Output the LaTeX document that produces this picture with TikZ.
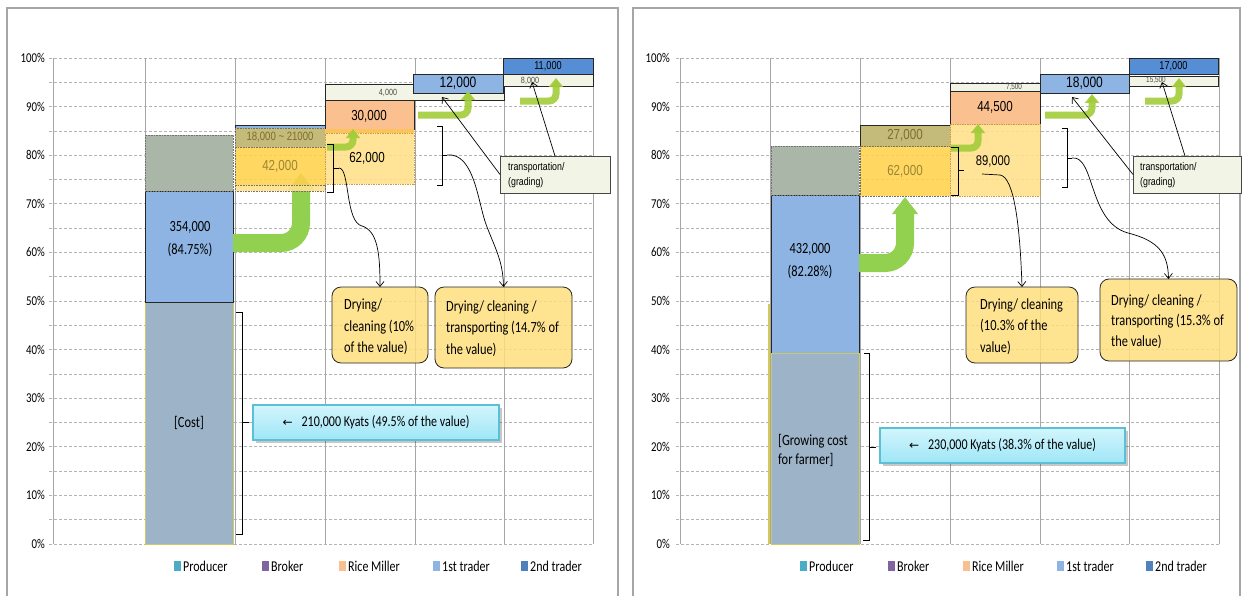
\documentclass[tikz,border=0pt]{standalone}
\usepackage{fontspec}
\setmainfont{Carlito}[FakeStretch=0.8]
\newfontfamily\arialf{Liberation Sans}[FakeStretch=0.8]
\newfontfamily\symf{DejaVu Sans}
\usetikzlibrary{arrows.meta,fit}
\newcommand\fsz[2]{\fontsize{#1}{#2}\selectfont}

\definecolor{framegray}{HTML}{A6A6A6}
\definecolor{gridgray}{HTML}{B4B4B4}
\definecolor{costblue}{HTML}{9DB3C8}
\definecolor{costedge}{HTML}{D2C862}
\definecolor{midblue}{HTML}{8DB4E2}
\definecolor{topgreen}{HTML}{A9B6A8}
\definecolor{brokerOlive}{HTML}{C4BA7A}
\definecolor{oliveText}{HTML}{7F6E2C}
\definecolor{goldfill}{HTML}{FFD24C}
\definecolor{goldText}{HTML}{9A8636}
\definecolor{paleyellow}{HTML}{FFE08C}
\definecolor{millerOrange}{HTML}{FAC08F}
\definecolor{millerBand}{HTML}{FBC35A}
\definecolor{paleGreen}{HTML}{F2F4E6}
\definecolor{darkblue}{HTML}{558ED5}
\definecolor{dryfill}{HTML}{FEDF7E}
\definecolor{calloutTop}{HTML}{D2F5FC}
\definecolor{calloutBot}{HTML}{9FE6F7}
\definecolor{calloutLine}{HTML}{5BBFD6}
\definecolor{arrowgreen}{HTML}{92D050}
\definecolor{smallgreen}{HTML}{A2CC3A}
\definecolor{legProducer}{HTML}{4BACC6}
\definecolor{legBroker}{HTML}{8064A2}
\definecolor{legMiller}{HTML}{F9BF8F}
\definecolor{legFirst}{HTML}{8DB4E2}
\definecolor{legSecond}{HTML}{4F81BD}
\definecolor{inkdark}{HTML}{262626}

\tikzset{
  seg/.style={rectangle, inner sep=0pt, outer sep=0pt, line width=0.7pt, draw=inkdark},
  dotseg/.style={seg, draw=inkdark!65, line width=0.6pt, densely dotted},
  hgrid/.style={draw=gridgray, line width=0.8pt, dash pattern=on 3pt off 2pt},
  vgrid/.style={draw=framegray, line width=1pt},
  chartframe/.style={draw=framegray, line width=1.4pt},
  axislabel/.style={anchor=east, inner sep=0pt, font={\fsz{13.5}{15}}},
  bigarrow/.style={draw=arrowgreen, line width=18pt, rounded corners=20pt, -{Triangle[width=25pt,length=17pt]}},
  smallarrow/.style={draw=smallgreen, draw opacity=0.9, line width=7pt, rounded corners=7pt, -{Triangle[width=14pt,length=9pt]}},
  pointer/.style={draw=black, line width=0.7pt, -{Straight Barb[length=5pt,width=8pt]}},
  brace/.style={draw=black, line width=1pt},
  drybox/.style={seg, rounded corners=9pt, fill=dryfill, fill opacity=0.85, draw=inkdark, line width=0.8pt},
  drytext/.style={anchor=west, inner sep=0pt, align=left, font={\fsz{15.5}{21.5}}},
  transbox/.style={seg, fill=paleGreen, draw=inkdark!85, line width=0.8pt},
  transtext/.style={anchor=west, inner sep=0pt, align=left, font={\arialf\fsz{11}{15}}},
  callout/.style={seg, top color=calloutTop, bottom color=calloutBot, draw=calloutLine, line width=1.2pt},
  callshadow/.style={fill=black, fill opacity=0.22},
  calltext/.style={inner sep=0pt, font={\fsz{15}{17}}},
  legtext/.style={anchor=west, inner sep=0pt, font={\fsz{15}{17}}},
  smalltext/.style={inner sep=0pt, font={\arialf\fsz{9}{10}}, text=black!70},
  valtext/.style={inner sep=0pt, font={\arialf\fsz{14.5}{16}}},
  bartext/.style={inner sep=0pt, align=center, font={\fsz{15.5}{23}}},
}

\begin{document}
\begin{tikzpicture}[x=1pt,y=-1pt]
\useasboundingbox (0,0) rectangle (1242,595);
\fill[white] (0,0) rectangle (1242,595);

%================ left chart ================
\draw[chartframe] (7,598) -- (7,8) -- (618,8) -- (618,598);
\foreach \i in {0,...,20} \draw[hgrid] (49,{544-24.3*\i}) -- (593,{544-24.3*\i});
\foreach \x in {53,145,235,325,415,504,593} \draw[vgrid] (\x,58) -- (\x,544);
\foreach \i in {0,...,10} \node[axislabel] at (45,{544-48.6*\i}) {\the\numexpr 10*\i\relax\%};

% producer
\node[seg, draw=costedge, line width=0.9pt, fill=costblue, fit={(145,302) (233,544)}] (Lcost) {};
\node[bartext] at (Lcost.center) {[Cost]};
\node[seg, fill=midblue, fit={(145,191) (233,302)}] (Lmid) {};
\node[bartext] at (190,239) {354,000\\(84.75\%)};
\node[dotseg, fill=topgreen, fit={(145,135) (233,191)}] (Ltop) {};

% value added by the broker
\coordinate (LbaC) at (301,243);
\coordinate (LbaT) at (301,173);
\draw[bigarrow] (Lmid.east |- LbaC) -- (LbaC) -- (LbaT);

\node[seg, fill=midblue, fit={(235,125) (325,128)}] (LbBlue) {};
\node[dotseg, fill=brokerOlive, fit={(235,128) (325,147)}] (LbOlive) {};
\node[valtext, font={\arialf\fsz{12}{14}}, text=oliveText] at (LbOlive.center) {18,000 \textasciitilde{} 21000};
\node[dotseg, fill=goldfill, fill opacity=0.88, fit={(235,147) (325,185)}] (LbGold) {};
\node[valtext, text=goldText] at (LbGold.center) {42,000};
\node[dotseg, fill=paleyellow, fill opacity=0.9, fit={(235,185) (325,191)}] (LbPale) {};

% rice miller
\node[seg, fill=paleGreen, fit={(325,84) (504,100)}] (Lr4k) {};
\node[smalltext] at (388,93) {4,000};
\node[seg, fill=millerOrange, fit={(325,100) (414,129)}] (LrOr) {};
\node[valtext] at (369,116) {30,000};
\node[seg, draw=none, fill=millerBand, fit={(325,129) (414,133)}] (LrBand) {};
\node[seg, draw=millerBand!80!black, densely dotted, line width=0.5pt, fill=paleyellow, fill opacity=0.9, fit={(325,133) (414,184)}] (LrPale) {};
\node[valtext] at (367,158) {62,000};
\draw[smallarrow] (327,147) -- (353,147) -- (LrOr.south -| 353,0);

\draw[brace] (327,144) -- (333,144) -- (333,192) -- (327,192);
\draw[brace] (333,168) -- (339,168);

% 1st trader
\node[seg, fill=midblue, line width=1pt, fit={(413,74) (503,93)}] (Lt1) {};
\node[valtext, font={\arialf\fsz{15}{17}}] at (Lt1.center) {12,000};
\draw[smallarrow] (418,115) -- (468,115) -- (468,91);
\draw[brace] (437,126) -- (442,126) -- (442,185) -- (437,185);
\draw[brace] (442,155) -- (447,155);

% 2nd trader
\node[seg, fill=darkblue, fit={(503,58) (593,74)}] (Lt2a) {};
\node[valtext, font={\arialf\fsz{11.5}{13}}] at (Lt2a.center) {11,000};
\node[seg, fill=paleGreen, fit={(503,74) (593,86)}] (Lt2b) {};
\node[smalltext] at (530,81) {8,000};
\draw[smallarrow] (520,101) -- (556,101) -- (556,78);

% transport note
\node[transbox, fit={(500,156) (610,193)}] (TrL) {};
\node[transtext] at (508,175) {transportation/\\(grading)};
\coordinate (LtA) at (442,97);
\coordinate (LtB) at (532,82);
\coordinate (LtBs) at (555,156);
\draw[pointer] (TrL.west) -- (LtA);
\draw[pointer] (LtBs) -- (LtB);

% processing notes
\node[drybox, fit={(332,287) (428,363)}] (D1L) {};
\node[drytext] at (344,327) {Drying/\\cleaning (10\%\\of the value)};
\node[drybox, fit={(435,287) (572,368)}] (D2L) {};
\node[drytext] at (446,328.5) {Drying/ cleaning /\\transporting (14.7\% of\\the value)};
\draw[pointer] (339,168) .. controls (350,168) and (345,222) .. (362,226) .. controls (378,231) and (380,255) .. (D1L.north);
\draw[pointer] (447,155) .. controls (475,152) and (478,205) .. (487,227) .. controls (496,250) and (503,262) .. (D2L.north);

% cost brace and callout
\draw[brace] (236,312) -- (242,312) -- (242,534) -- (236,534);
\draw[brace] (242,422) -- (249,422);
\fill[callshadow] (256,408) rectangle (502,443);
\node[callout, fit={(253,405) (499,440)}] (CaL) {};
\node[calltext] at (CaL.center) {{\symf\fsz{12}{14}←}\hspace{9pt}210,000 Kyats (49.5\% of the value)};

% legend
\foreach \xx/\cc/\tt/\nn in {174/legProducer/Producer/a, 262/legBroker/Broker/b, 339/legMiller/Rice Miller/c, 433/legFirst/1st trader/d, 521/legSecond/2nd trader/e}{
  \fill[\cc] (\xx,561) rectangle ++(7,10);
  \node[legtext] (LL\nn) at (\xx+9,566) {\tt};
}

%================ right chart ================
\draw[chartframe] (633,598) -- (633,8) -- (1240,8) -- (1240,598);
\foreach \i in {0,...,20} \draw[hgrid] (676,{544-24.3*\i}) -- (1219,{544-24.3*\i});
\foreach \x in {680,770,860,950,1040,1129,1219} \draw[vgrid] (\x,58) -- (\x,544);
\foreach \i in {0,...,10} \node[axislabel] at (670,{544-48.6*\i}) {\the\numexpr 10*\i\relax\%};

% producer
\draw[draw=costedge, line width=1.2pt] (769,304) -- (769,544);
\node[seg, fill=midblue, fit={(771,195) (859,353)}] (Rmid) {};
\node[seg, draw=costedge, line width=0.9pt, fill=costblue, fit={(771,353) (859,544)}] (Rcost) {};
\node[bartext, align=left, font={\fsz{15.5}{19}}, anchor=west] at (778,450) {[Growing cost\\for farmer]};
\node[bartext] at (810,261) {432,000\\(82.28\%)};
\node[dotseg, fill=topgreen, fit={(771,146) (859,195)}] (Rtop) {};

\coordinate (RbaC) at (905,263);
\coordinate (RbaT) at (905,197);
\draw[bigarrow] (Rmid.east |- RbaC) -- (RbaC) -- (RbaT);

% broker
\node[seg, fill=brokerOlive, line width=1pt, fit={(860,125) (950,146)}] (RbOlive) {};
\node[valtext, text=oliveText] at (RbOlive.center) {27,000};
\node[dotseg, fill=goldfill, fill opacity=0.88, fit={(860,146) (950,196)}] (RbGold) {};
\node[valtext, text=goldText] at (RbGold.center) {62,000};

% rice miller
\node[seg, fill=paleGreen, line width=1pt, fit={(950,83) (1040,91)}] (Rr7) {};
\node[smalltext, font={\arialf\fsz{8}{9}}] at (1014,87) {7,500};
\node[seg, fill=millerOrange, fit={(950,91) (1040,124)}] (RrOr) {};
\node[valtext] at (RrOr.center) {44,500};
\node[seg, draw=millerBand!80!black, densely dotted, line width=0.5pt, fill=paleyellow, fill opacity=0.9, fit={(950,124) (1040,196)}] (RrPale) {};
\node[valtext, font={\arialf\fsz{14}{16}}] at (993,162) {89,000};
\draw[smallarrow] (951,148) -- (978,148) -- (RrOr.south -| 978,0);
\draw[brace] (951,147) -- (958,147) -- (958,195) -- (951,195);
\draw[brace] (958,170) -- (964,170);

% 1st trader
\node[seg, fill=midblue, line width=1pt, fit={(1040,74) (1129,93)}] (Rt1) {};
\node[valtext, font={\arialf\fsz{15}{17}}] at (Rt1.center) {18,000};
\draw[smallarrow] (1045,115) -- (1092,115) -- (1092,94);
\draw[brace] (1062,128) -- (1067,128) -- (1067,187) -- (1062,187);
\draw[brace] (1067,158) -- (1072,158);

% 2nd trader
\node[seg, fill=darkblue, fit={(1129,58) (1218,74)}] (Rt2a) {};
\node[valtext, font={\arialf\fsz{11.5}{13}}] at (Rt2a.center) {17,000};
\node[seg, fill=paleGreen, fit={(1129,76) (1218,86)}] (Rt2b) {};
\node[smalltext, font={\arialf\fsz{8}{9}}] at (1156,80) {15,500};
\draw[smallarrow] (1145,101) -- (1179,101) -- (1179,78);

% transport note
\node[transbox, fit={(1133,156) (1241,193)}] (TrR) {};
\node[transtext] at (1140,175) {transportation/\\(grading)};
\coordinate (RtA) at (1072,97);
\coordinate (RtB) at (1162,82);
\coordinate (RtBs) at (1185,156);
\draw[pointer] (TrR.west) -- (RtA);
\draw[pointer] (RtBs) -- (RtB);

% processing notes
\node[drybox, fit={(966,287) (1078,363)}] (D1R) {};
\node[drytext] at (980,326.5) {Drying/ cleaning\\(10.3\% of the\\value)};
\node[drybox, fit={(1100,279) (1237,361)}] (D2R) {};
\node[drytext, font={\fsz{15.5}{20.5}}] at (1111,321.5) {Drying/ cleaning /\\transporting (15.3\% of\\the value)};
\coordinate (RcS) at (982,174);
\draw[pointer] (RcS) -- (1000,175) .. controls (1014,177) and (1020,225) .. (D1R.north);
\draw[pointer] (1072,158) .. controls (1095,155) and (1088,222) .. (1128,233) .. controls (1160,241) and (1168,255) .. (D2R.north);

% cost brace and callout
\draw[brace] (864,353) -- (869,353) -- (869,540) -- (863,540);
\draw[brace] (869,447) -- (876,447);
\fill[callshadow] (883,431) rectangle (1128,466);
\node[callout, fit={(880,428) (1125,463)}] (CaR) {};
\node[calltext] at (CaR.center) {{\symf\fsz{12}{14}←}\hspace{9pt}230,000 Kyats (38.3\% of the value)};

% legend
\foreach \xx/\cc/\tt/\nn in {800/legProducer/Producer/a, 888/legBroker/Broker/b, 963/legMiller/Rice Miller/c, 1057/legFirst/1st trader/d, 1146/legSecond/2nd trader/e}{
  \fill[\cc] (\xx,561) rectangle ++(7,10);
  \node[legtext] (RL\nn) at (\xx+9,566) {\tt};
}
\end{tikzpicture}
\end{document}
